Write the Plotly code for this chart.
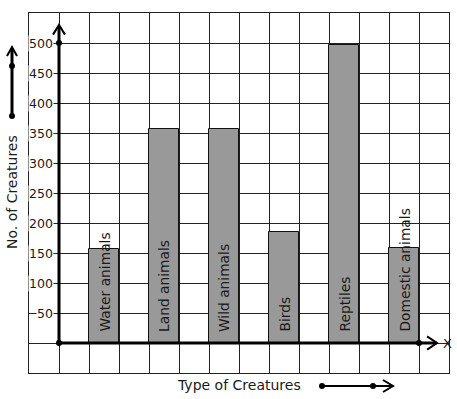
import plotly.graph_objects as go

categories = ["Water animals", "Land animals", "Wild animals", "Birds", "Reptiles", "Domestic animals"]
values = [156, 357, 357, 185, 497, 158]
positions = [1.5, 3.5, 5.5, 7.5, 9.5, 11.5]
ytick_vals = [50, 100, 150, 200, 250, 300, 350, 400, 450, 500]
ytick_text = [str(v) for v in ytick_vals]

FONT = "DejaVu Sans"
TXT = "#1a1a1a"

# pixel -> paper helpers (plot area geometry)
L, R, T, B = 29, 8, 13, 26
W, H = 457, 399
pw, ph = W - L - R, H - T - B


def px(x):
    return (x - L) / pw


def py(y):
    return (H - B - y) / ph


fig = go.Figure()
fig.add_trace(go.Bar(
    x=positions, y=values, width=1,
    marker=dict(color="#999999", line=dict(color="#111111", width=1)),
    hoverinfo="skip", showlegend=False,
))

# dots on axes
fig.add_trace(go.Scatter(
    x=[0, 0, 12], y=[0, 500, 0], mode="markers",
    marker=dict(color="black", size=6), cliponaxis=False,
    showlegend=False, hoverinfo="skip",
))

annotations = []
# bar labels
for c, p in zip(categories, positions):
    annotations.append(dict(
        x=p, y=0, xref="x", yref="y", text=c, showarrow=False,
        textangle=-90, yanchor="bottom", xanchor="center", yshift=9,
        font=dict(family=FONT, size=13.8, color=TXT),
    ))
# y tick labels with white backgrounds
for v, t in zip(ytick_vals, ytick_text):
    annotations.append(dict(
        x=-0.17, y=v, xref="x", yref="y", text=t, showarrow=False,
        xanchor="right", yanchor="middle", bgcolor="white", borderpad=0,
        font=dict(family=FONT, size=12.5, color=TXT),
    ))
# axis letters
annotations.append(dict(x=0.05, y=555, xref="x", yref="y", text="Y", showarrow=False,
                        xanchor="center", yanchor="middle",
                        bgcolor="white", borderpad=0, font=dict(family=FONT, size=13, color=TXT)))
annotations.append(dict(x=12.95, y=0, xref="x", yref="y", text="X", showarrow=False,
                        xanchor="center", yanchor="middle",
                        font=dict(family=FONT, size=13, color=TXT)))
# axis titles
annotations.append(dict(x=px(12), y=py(192), xref="paper", yref="paper",
                        xanchor="center", yanchor="middle",
                        text="No. of Creatures", showarrow=False, textangle=-90,
                        font=dict(family=FONT, size=14, color=TXT)))
annotations.append(dict(x=px(239), y=py(385), xref="paper", yref="paper",
                        xanchor="center", yanchor="middle",
                        text="Type of Creatures", showarrow=False,
                        font=dict(family=FONT, size=14, color=TXT)))

shapes = []
# thick y axis and arrow
shapes.append(dict(type="line", xref="x", yref="y", x0=0, y0=0, x1=0, y1=528,
                   line=dict(color="black", width=3)))
shapes.append(dict(type="path", xref="x", yref="y",
                   path="M -0.2,514 L 0,530 L 0.2,514", line=dict(color="black", width=2)))
# thick x axis and arrow
shapes.append(dict(type="line", xref="x", yref="y", x0=0, y0=0, x1=12.58, y1=0,
                   line=dict(color="black", width=3)))
shapes.append(dict(type="path", xref="x", yref="y",
                   path="M 12.27,11 L 12.6,0 L 12.27,-11", line=dict(color="black", width=2)))

# left vertical arrow beside y title
shapes.append(dict(type="line", xref="paper", yref="paper", x0=px(12), y0=py(116), x1=px(12), y1=py(48),
                   line=dict(color="black", width=3)))
shapes.append(dict(type="path", xref="paper", yref="paper",
                   path=f"M {px(7)},{py(56)} L {px(12)},{py(47)} L {px(17)},{py(56)}",
                   line=dict(color="black", width=2)))
# bottom horizontal arrow beside x title
shapes.append(dict(type="line", xref="paper", yref="paper", x0=px(322), y0=py(386), x1=px(392), y1=py(386),
                   line=dict(color="black", width=2)))
shapes.append(dict(type="path", xref="paper", yref="paper",
                   path=f"M {px(383)},{py(380)} L {px(393)},{py(386)} L {px(383)},{py(392)}",
                   line=dict(color="black", width=2)))
for (cx, cy) in [(12, 116), (12, 66), (322, 386), (373, 386)]:
    shapes.append(dict(type="circle", xref="paper", yref="paper",
                       x0=px(cx - 3), x1=px(cx + 3), y0=py(cy + 3), y1=py(cy - 3),
                       fillcolor="black", line=dict(color="black", width=0)))

fig.update_layout(
    width=W, height=H,
    margin=dict(l=L, r=R, t=T, b=B, pad=0),
    paper_bgcolor="white", plot_bgcolor="white",
    xaxis=dict(range=[-1, 13], dtick=1, tick0=0, showgrid=True, gridcolor="#222222", gridwidth=1,
               showticklabels=False, ticks="", zeroline=False, showline=True, mirror=True,
               linecolor="#222222", linewidth=1, fixedrange=True),
    yaxis=dict(range=[-50, 550], dtick=50, tick0=0, showgrid=True, gridcolor="#222222", gridwidth=1,
               showticklabels=False, ticks="", zeroline=False, showline=True, mirror=True,
               linecolor="#222222", linewidth=1, fixedrange=True),
    annotations=annotations, shapes=shapes,
    bargap=0, showlegend=False,
    font=dict(family=FONT, color=TXT),
)

fig.write_html("out.html", config={"displayModeBar": False},
               post_script="document.body.style.margin='0';document.body.style.overflow='hidden';")
